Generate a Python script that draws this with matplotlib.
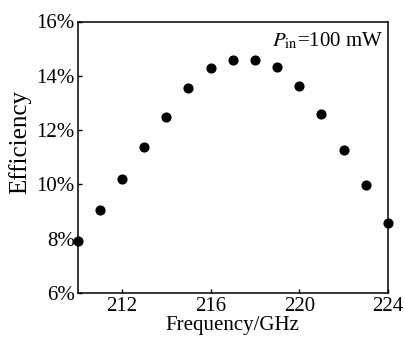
import matplotlib
matplotlib.use("Agg")
import matplotlib.pyplot as plt
from matplotlib.ticker import FuncFormatter

plt.rcParams['font.family'] = ['Liberation Serif', 'DejaVu Serif']
plt.rcParams['mathtext.fontset'] = 'stix'

freq = [210, 211, 212, 213, 214, 215, 216, 217, 218, 219, 220, 221, 222, 223, 224]
eff = [7.92, 9.05, 10.2, 11.36, 12.5, 13.56, 14.27, 14.57, 14.58, 14.31,
       13.63, 12.58, 11.28, 9.96, 8.56]

xticks = [212, 216, 220, 224]
yticks = [6, 8, 10, 12, 14, 16]

fig = plt.figure(figsize=(4.05, 3.38), dpi=100)
ax = fig.add_axes([77.5/405, 1 - 293/338, (388 - 77.5)/405, (293 - 21.5)/338])

ax.plot(freq, eff, 'o', color='black', markersize=6.3, clip_on=False, zorder=3)

ax.set_xlim(210, 224)
ax.set_ylim(6, 16)
ax.set_xticks(xticks)
ax.set_yticks(yticks)
ax.yaxis.set_major_formatter(FuncFormatter(lambda v, p: '%d%%' % v))
ax.tick_params(direction='in', length=3, width=1, labelsize=15, pad=2)
ax.tick_params(axis='x', pad=3)
for s in ax.spines.values():
    s.set_linewidth(1.1)

ax.set_xlabel('Frequency/GHz', fontsize=15, labelpad=0)
ax.set_ylabel('Efficiency', fontsize=18)
ax.yaxis.set_label_coords(-0.15, 0.555)

ax.text(0.985, 0.965, r'$P_{\mathrm{in}}$=100 mW', transform=ax.transAxes,
        ha='right', va='top', fontsize=15)

fig.savefig('out.png', dpi=100)
